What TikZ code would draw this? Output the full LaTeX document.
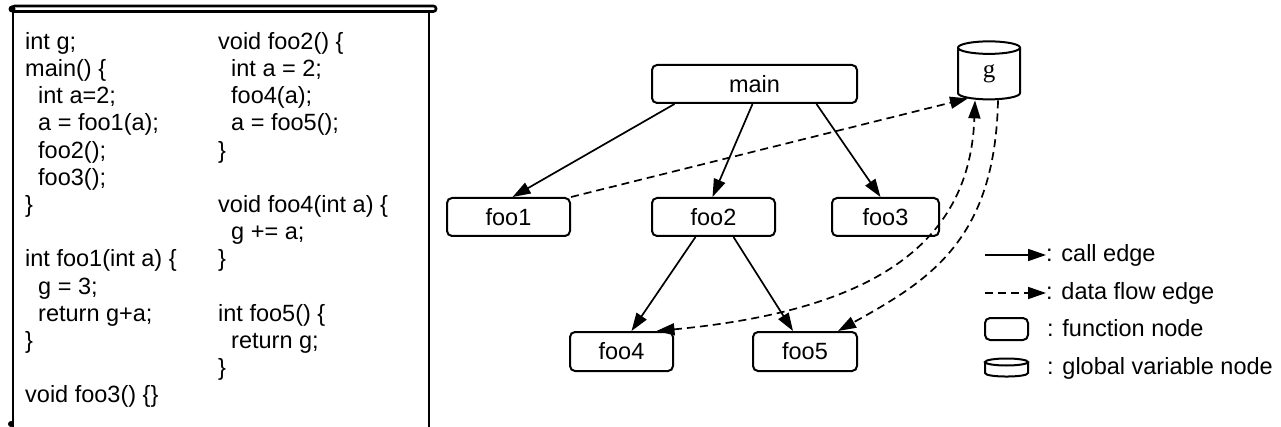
\documentclass[tikz,border=0pt]{standalone}
\usepackage{fontspec}
\setmainfont{Liberation Sans}
\newfontfamily\gfont{Liberation Serif}
\usetikzlibrary{shapes.geometric,arrows.meta}
\newcommand\labelsize{\fontsize{23.5}{27.2}\selectfont}
\newcommand\ind{\hspace*{13pt}}

\begin{document}
\begin{tikzpicture}[x=1pt, y=-1pt, >={Triangle[length=18pt,width=12pt]},
  func/.style = {draw, rounded corners=5pt, line width=2pt, minimum height=38pt, inner sep=0pt, font=\labelsize},
  gvar/.style = {draw, cylinder, shape border rotate=90, line width=2pt, inner sep=0pt},
  call/.style = {->, line width=1.7pt},
  flow/.style = {->, line width=1.7pt, dash pattern=on 8pt off 5pt},
  code/.style = {anchor=north west, inner sep=0pt, align=left, font=\labelsize},
  legend/.style = {anchor=west, inner sep=0pt, font=\labelsize}]
\useasboundingbox (0,0) rectangle (1281,427);

% code listing
\draw[line width=2.6pt, rounded corners=2.5pt] (12,6) rectangle (436,11.5);
\fill (12,9) circle (3.5);
\draw[line width=2.2pt] (13,12) -- (13,427);
\draw[line width=2.2pt] (429,12) -- (429,427);
\fill (11,424) circle (3);
\node[code] (lcol) at (25,30) {\strut int g;\\
  main() \{\\
  \ind int a=2;\\
  \ind a = foo1(a);\\
  \ind foo2();\\
  \ind foo3();\\
  \}\\
  \mbox{}\\
  int foo1(int a) \{\\
  \ind g = 3;\\
  \ind return g+a;\\
  \}\\
  \mbox{}\\
  void foo3() \{\}};
\node[code] (rcol) at (218,30) {\strut void foo2() \{\\
  \ind int a = 2;\\
  \ind foo4(a);\\
  \ind a = foo5();\\
  \}\\
  \mbox{}\\
  void foo4(int a) \{\\
  \ind g += a;\\
  \}\\
  \mbox{}\\
  int foo5() \{\\
  \ind return g;\\
  \}};

% call graph
\node[func, minimum width=205pt] (main) at (754.5,84) {main};
\node[gvar, minimum width=62pt, minimum height=58pt, aspect=1.0, font=\gfont\fontsize{25}{30}\selectfont] (g) at (989,74) {g};
\node[func, minimum width=123pt] (foo1) at (508.5,217) {foo1};
\node[func, minimum width=123pt] (foo2) at (713.5,217) {foo2};
\node[func, minimum width=107pt] (foo3) at (885.5,217) {foo3};
\node[func, minimum width=103pt, minimum height=39pt] (foo4) at (621.5,351.5) {foo4};
\node[func, minimum width=104pt, minimum height=39pt] (foo5) at (805,351.5) {foo5};

\draw[call] ([xshift=-80pt]main.south) -- ([xshift=4pt]foo1.north);
\draw[call] ([xshift=-2pt]main.south) -- ([xshift=-1pt]foo2.north);
\draw[call] ([xshift=62pt]main.south) -- ([xshift=-5pt]foo3.north);
\draw[call] ([xshift=-18pt]foo2.south) -- ([xshift=10pt]foo4.north);
\draw[call] ([xshift=20pt]foo2.south) -- ([xshift=-12pt]foo5.north);

\draw[flow] (foo1.north east) -- ([xshift=-21pt,yshift=2pt]g.south);
\draw[flow, <->] ([xshift=35pt]foo4.north) .. controls (880,310) and (970,240) .. ([xshift=-14pt]g.south);
\draw[flow] ([xshift=9pt]g.south) .. controls (995,240) and (930,280) .. ([xshift=33pt]foo5.north);

% legend
\node[legend] (tcall) at (1046,255) {: call edge};
\node[legend] (tflow) at (1046,293) {: data flow edge};
\node[legend] (tfunc) at (1047,328) {: function node};
\node[legend] (tgvar) at (1047,368) {: global variable node};
\coordinate (lcall) at (985,255);
\coordinate (lflow) at (985,293);
\draw[call] (lcall) -- (tcall.west);
\draw[flow] (lflow) -- (tflow.west);
\node[func, minimum width=43pt, minimum height=22pt] (lfunc) at (1006.5,329) {};
% small cylinder of the legend
\draw[line width=2pt] (1006.5,362) ellipse [x radius=21.5, y radius=3.5];
\draw[line width=2pt] (985,362) -- (985,373) .. controls (985,377.7) and (1028,377.7) .. (1028,373) -- (1028,362);
\end{tikzpicture}
\end{document}
